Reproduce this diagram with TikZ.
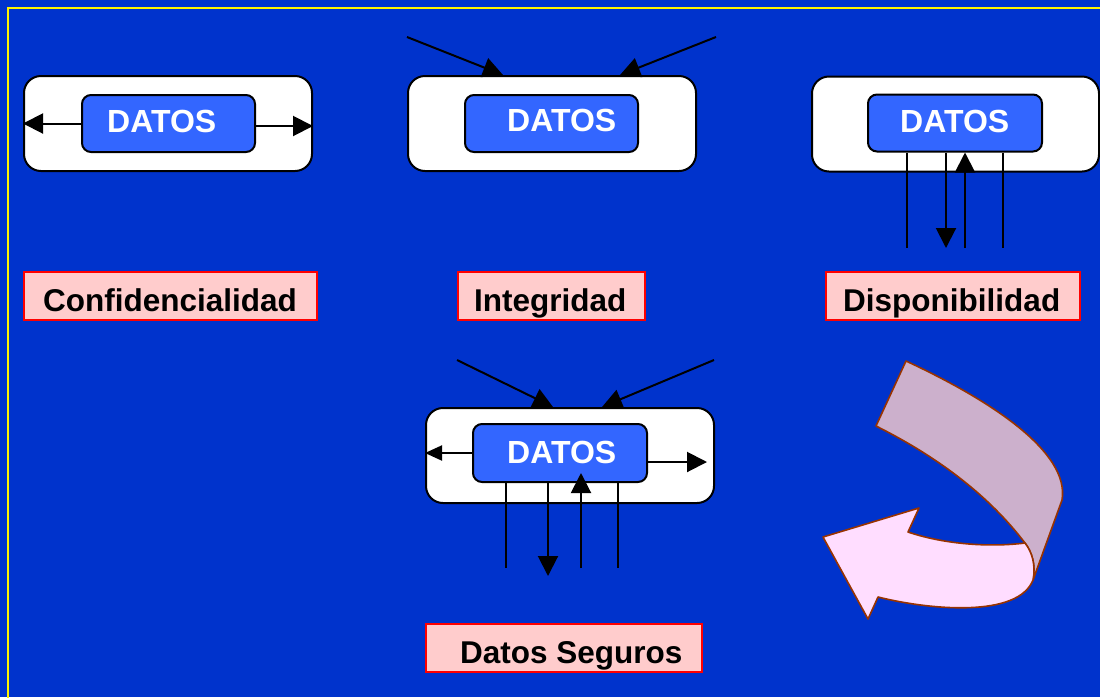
\documentclass[tikz,border=0pt]{standalone}
\usepackage{fontspec}
\setmainfont{Liberation Sans}
\usetikzlibrary{arrows.meta}
\definecolor{bgblue}{HTML}{0033CC}
\definecolor{datblue}{HTML}{3366FF}
\definecolor{lblfill}{HTML}{FFCCCC}
\definecolor{backband}{HTML}{CCB0CC}
\definecolor{frontband}{HTML}{FFDDFF}
\definecolor{bandline}{HTML}{993300}
\tikzset{
  outerbox/.style={draw=black, fill=white, line width=2pt, rounded corners=17pt,
    minimum width=288, minimum height=95, inner sep=0pt},
  innerbox/.style={draw=black, fill=datblue, line width=2pt, rounded corners=9pt,
    minimum width=173, minimum height=57, inner sep=0pt},
  datostext/.style={text=white, font=\bfseries\fontsize{32}{36}\selectfont,
    inner sep=0pt, anchor=base west},
  lblbox/.style={draw=red, fill=lblfill, line width=2pt, minimum height=48, inner sep=0pt},
  lbltext/.style={text=black, font=\bfseries\fontsize{31.5}{36}\selectfont,
    inner sep=0pt, anchor=base west},
  arr/.style={draw=black, line width=2pt, -{Triangle[length=20pt,width=20pt]}},
  plainline/.style={draw=black, line width=2pt},
  band/.style={draw=bandline, line width=1.6pt, line join=round}
}
\begin{document}
\begin{tikzpicture}[x=1pt, y=-1pt]
  % background and frame
  \useasboundingbox (0,0) rectangle (1100,697);
  \fill[bgblue] (0,0) rectangle (1100,697);
  \begin{scope}
    \clip (0,0) rectangle (1100,697);
    \draw[yellow, line width=2pt] (8,720) -- (8,8) -- (1120,8);
  \end{scope}

  % Confidencialidad
  \node[outerbox] (o1) at (168,123.5) {};
  \node[innerbox] (i1) at (168.5,123.5) {};
  \node[datostext] (t1) at (107,132) {DATOS};
  \coordinate (r1) at (255,126);
  \draw[arr] (i1.west) -- (o1.west |- i1.west);
  \draw[arr] (r1) -- (o1.east |- r1);

  % Integridad
  \coordinate (s2a) at (407,37);
  \coordinate (s2b) at (716,37);
  \coordinate (e2a) at (503,0);
  \coordinate (e2b) at (620,0);
  \node[outerbox] (o2) at (552,123.5) {};
  \node[innerbox] (i2) at (551.5,123.5) {};
  \node[datostext] (t2) at (507,131) {DATOS};
  \draw[arr] (s2a) -- (e2a |- o2.north);
  \draw[arr] (s2b) -- (e2b |- o2.north);

  % Disponibilidad
  \node[outerbox, minimum width=287] (o3) at (955.5,124) {};
  \node[innerbox, minimum width=174] (i3) at (955,123) {};
  \node[datostext] (t3) at (900,132) {DATOS};
  \coordinate (b3a) at (907,248);
  \coordinate (b3b) at (946,248);
  \coordinate (b3c) at (965,248);
  \coordinate (b3d) at (1003,248);
  \draw[plainline] (b3a |- i3.south) -- (b3a);
  \draw[arr] (b3b |- i3.south) -- (b3b);
  \draw[arr] (b3c) -- (b3c |- i3.south);
  \draw[plainline] (b3d |- i3.south) -- (b3d);

  % labels
  \node[lblbox, minimum width=293] (l1) at (170.5,296) {};
  \node[lbltext] (n1) at (43,311) {Confidencialidad};
  \node[lblbox, minimum width=187] (l2) at (551.5,296) {};
  \node[lbltext] (n2) at (474,311) {Integridad};
  \node[lblbox, minimum width=254] (l3) at (953,296) {};
  \node[lbltext] (n3) at (843,311) {Disponibilidad};

  % Datos Seguros
  \coordinate (s4a) at (457,360);
  \coordinate (s4b) at (714,360);
  \coordinate (e4a) at (553,0);
  \coordinate (e4b) at (602,0);
  \node[outerbox] (o4) at (570,455.5) {};
  \node[innerbox, minimum width=174, minimum height=58] (i4) at (560,453) {};
  \node[datostext] (t4) at (507,463) {DATOS};
  \draw[arr] (s4a) -- (e4a |- o4.north);
  \draw[arr] (s4b) -- (e4b |- o4.north);
  \draw[arr, -{Triangle[length=17pt,width=15pt]}] (i4.west) -- (o4.west |- i4.west);
  \coordinate (r4) at (707,462);
  \draw[arr] (i4.east |- r4) -- (r4);
  \coordinate (b4a) at (506,568);
  \coordinate (b4b) at (548,576);
  \coordinate (b4c) at (581,568);
  \coordinate (b4d) at (618,568);
  \coordinate (u4) at (581,473);
  \draw[plainline] (b4a |- i4.south) -- (b4a);
  \draw[arr] (b4b |- i4.south) -- (b4b);
  \draw[arr] (b4c) -- (u4);
  \draw[plainline] (b4d |- i4.south) -- (b4d);

  \node[lblbox, minimum width=276] (l4) at (564,648) {};
  \node[lbltext] (n4) at (460,663) {Datos Seguros};

  % curved return arrow: rear band
  \draw[band, fill=backband]
    (906,361) .. controls (990,400) and (1070,452) .. (1062,500)
    -- (1033,580)
    .. controls (1036,565) and (1032,552) .. (1025,543)
    .. controls (990,497) and (940,458) .. (876,426)
    -- cycle;
  % curved return arrow: front band with head
  \draw[band, fill=frontband]
    (1025,543) .. controls (985,548) and (940,543) .. (908,532)
    -- (919,508) -- (823,537) -- (868,619) -- (878,597)
    .. controls (930,610) and (1018,618) .. (1033,580)
    .. controls (1036,565) and (1032,552) .. (1025,543)
    -- cycle;
\end{tikzpicture}
\end{document}
